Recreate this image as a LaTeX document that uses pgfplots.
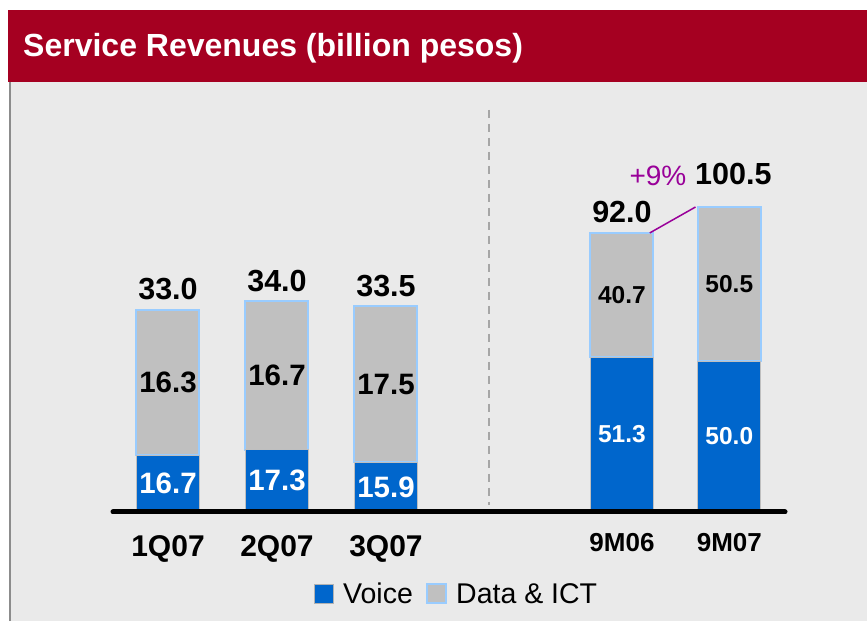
\documentclass[border=0pt]{standalone}
\usepackage{pgfplots}
\pgfplotsset{compat=1.18}
\usepackage{fontspec}
\setmainfont{Liberation Sans}
\definecolor{hdr}{HTML}{A50021}
\definecolor{bg}{HTML}{EAEAEA}
\definecolor{voice}{HTML}{0066CC}
\definecolor{dataict}{HTML}{C0C0C0}
\definecolor{edge}{HTML}{99CCFF}
\definecolor{purp}{HTML}{990099}
\definecolor{frame}{HTML}{8C8C8C}
\begin{document}
\begin{tikzpicture}[x=1pt,y=1pt]
\useasboundingbox (0,0) rectangle (867,621);
\fill[white] (0,0) rectangle (867,621);
\fill[bg] (10,0) rectangle (867,539);
\fill[hdr] (8,539) rectangle (867,611);
\draw[frame, line width=2.5pt] (10,0) -- (10,539);
\node[anchor=base west, text=white, font=\fontsize{32}{32}\selectfont\bfseries, inner sep=0pt] at (23,564) {Service Revenues (billion pesos)};
\draw[dash pattern=on 8pt off 6pt, color=gray!70, line width=2pt] (489,511) -- (489,116);

\pgfplotsset{common/.style={scale only axis, width=672pt, height=305pt,
  at={(113pt,109pt)}, anchor=south west, xmin=-0.5046, xmax=5.661,
  axis line style={draw=none}, ytick=\empty, major tick length=0pt,
  ybar stacked, bar width=63pt}}

% left group
\begin{axis}[common, ymin=10.3, ymax=44.57,
  xtick={0,1,2}, xticklabels={1Q07,2Q07,3Q07},
  xticklabel style={anchor=base, yshift=-45pt, font=\fontsize{30}{30}\selectfont\bfseries}]
\addplot[fill=voice, draw=gray!50, line width=1pt] coordinates {(0,16.7) (1,17.3) (2,15.9)};
\addplot[fill=dataict, draw=edge, line width=2pt] coordinates {(0,16.3) (1,16.7) (2,17.5)};
\coordinate (v1) at (axis cs:0,13.5);
\coordinate (v2) at (axis cs:1,13.8);
\coordinate (v3) at (axis cs:2,13.1);
\coordinate (d1) at (axis cs:0,24.85);
\coordinate (d2) at (axis cs:1,25.65);
\coordinate (d3) at (axis cs:2,24.65);
\coordinate (t1) at (axis cs:0,33.0);
\coordinate (t2) at (axis cs:1,34.0);
\coordinate (t3) at (axis cs:2,33.4);
\end{axis}

% right group
\begin{axis}[common, ymin=0.5, ymax=100.5,
  xtick={4.165,5.15}, xticklabels={9M06,9M07},
  xticklabel style={anchor=base, yshift=-40pt, font=\fontsize{26}{26}\selectfont\bfseries}]
\addplot[fill=voice, draw=gray!50, line width=1pt] coordinates {(4.165,51.3) (5.15,50.0)};
\addplot[fill=dataict, draw=edge, line width=2pt] coordinates {(4.165,40.7) (5.15,50.5)};
\coordinate (b0) at (rel axis cs:0,0);
\coordinate (b1) at (rel axis cs:1,0);
\coordinate (v4) at (axis cs:4.165,25.9);
\coordinate (v5) at (axis cs:5.15,25.25);
\coordinate (d4) at (axis cs:4.165,71.65);
\coordinate (d5) at (axis cs:5.15,75.25);
\coordinate (t4) at (axis cs:4.165,92.0);
\coordinate (t5) at (axis cs:5.15,100.5);
\coordinate (p0) at (axis cs:4.42,92.0);
\coordinate (p1) at (axis cs:4.84,100.5);
\coordinate (pc) at (axis cs:4.495,107.7);
\end{axis}

\draw[line width=5pt, line cap=round] (b0) -- (b1);
\begin{scope}[every node/.style={font=\fontsize{29.5}{29}\selectfont\bfseries, inner sep=0pt}]
\node[text=white] at (v1) {16.7};
\node[text=white] at (v2) {17.3};
\node[text=white] at (v3) {15.9};
\node at (d1) {16.3};
\node at (d2) {16.7};
\node at (d3) {17.5};
\end{scope}
\begin{scope}[every node/.style={font=\fontsize{24.5}{24}\selectfont\bfseries, inner sep=0pt}]
\node[text=white] at (v4) {51.3};
\node[text=white] at (v5) {50.0};
\node at (d4) {40.7};
\node at (d5) {50.5};
\end{scope}
\begin{scope}[every node/.style={font=\fontsize{30.5}{30}\selectfont\bfseries, inner sep=0pt, anchor=base}]
\node[yshift=10pt] at (t1) {33.0};
\node[yshift=10pt] at (t2) {34.0};
\node[yshift=10pt] at (t3) {33.5};
\node[yshift=10pt] at (t4) {92.0};
\node[yshift=22pt, xshift=4pt] at (t5) {100.5};
\end{scope}
\draw[purp, line width=1.5pt] (p0) -- (p1);
\node[anchor=base, text=purp, inner sep=0pt, font=\fontsize{28}{28}\selectfont] at (pc) {+9\%};

% legend
\draw[gray!60, line width=1pt, fill=voice] (314,18) rectangle (333,37);
\node[anchor=base west, inner sep=0pt, font=\fontsize{28.5}{28}\selectfont] at (343,18) {Voice};
\draw[edge, line width=1.5pt, fill=dataict] (427,18) rectangle (446,37);
\node[anchor=base west, inner sep=0pt, font=\fontsize{28.5}{28}\selectfont] at (456,18) {Data \& ICT};
\end{tikzpicture}
\end{document}
